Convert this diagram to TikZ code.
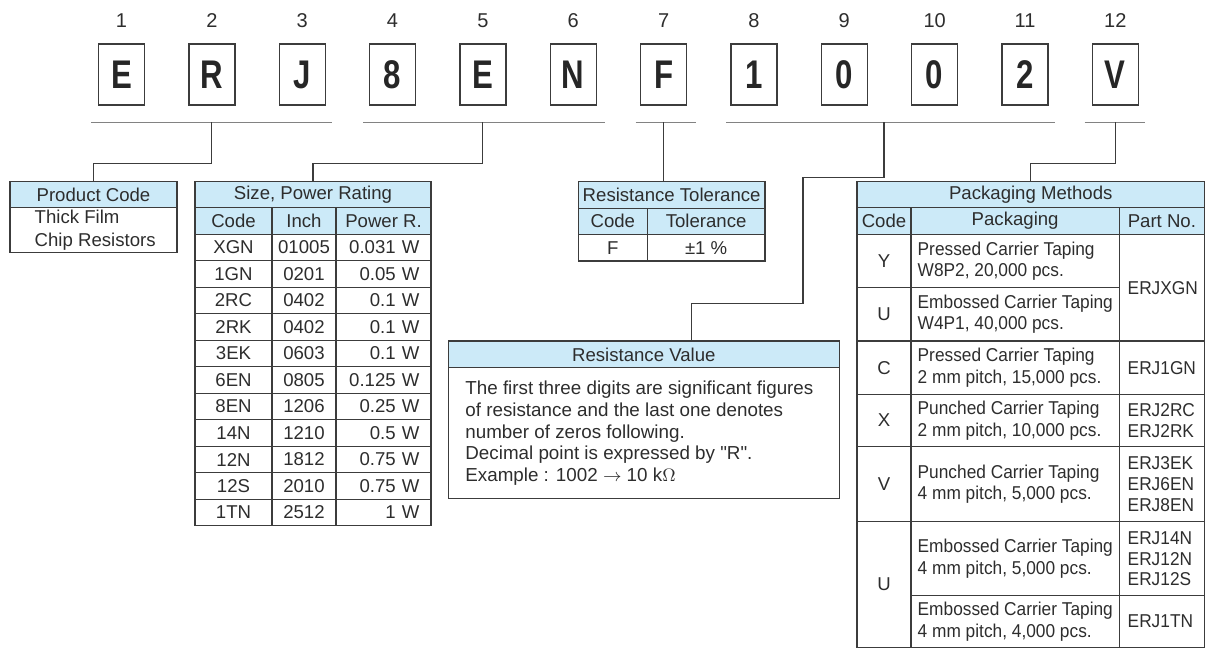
\documentclass[tikz,border=0pt]{standalone}
\usepackage{fontspec}
\setmainfont{Liberation Sans}
\newfontfamily\packfont{Liberation Sans}[FakeStretch=0.93]
\newfontfamily\codefont{Liberation Sans}[FakeStretch=0.78]
\usepackage{tikz}
\usepackage{color}

\definecolor{headblue}{RGB}{204,234,248}
\definecolor{rulegray}{RGB}{60,60,60}
\definecolor{textgray}{RGB}{45,45,45}
\definecolor{bracketgray}{RGB}{130,130,130}

\tikzset{
  cell/.style={draw=rulegray, line width=0.65pt, inner sep=0pt, text=textgray},
  headcell/.style={cell, fill=headblue},
  txt/.style={inner sep=0pt, text=textgray},
  charbox/.style={draw=rulegray, line width=0.65pt, inner sep=0pt, minimum width=23pt, minimum height=30.5pt,
    text=black!85, font=\codefont\bfseries\fontsize{20}{20}\selectfont},
  bracket/.style={bracketgray, line width=0.75pt},
  link/.style={rulegray, line width=0.55pt}
}

\begin{document}
\begin{tikzpicture}[x=0.5pt, y=-0.5pt, font=\fontsize{9.3}{10.8}\selectfont]
\useasboundingbox (0,0) rectangle (1205,649);

\foreach \ch [count=\i] in {E,R,J,8,E,N,F,1,0,0,2,V} {
  \node[txt, font=\fontsize{10}{10}\selectfont] (num\i) at ({121.5+(\i-1)*90.35},21) {\i};
  \node[charbox] (b\i) at ({121.5+(\i-1)*90.35},74.5) {\ch};
}

% brackets under the code
\coordinate (br1w) at (91,122.3);     \coordinate (br1e) at (332.4,122.3);
\coordinate (br2w) at (363,122.3);    \coordinate (br2e) at (604.6,122.3);
\coordinate (br3w) at (635.5,122.3);  \coordinate (br3e) at (695.5,122.3);
\coordinate (br4w) at (726,122.3);    \coordinate (br4e) at (1054.7,122.3);
\coordinate (br5w) at (1084.5,122.3); \coordinate (br5e) at (1144.5,122.3);
\coordinate (br4m) at (884,122.3);
\foreach \k in {1,...,5} \draw[bracket] (br\k w) -- (br\k e);

% product code
\node[headcell, minimum width=83.5pt, minimum height=13pt] (prod) at (93.5,194.7) {Product Code};
\node[cell, minimum width=83.5pt, minimum height=22.3pt] (prodbody) at (93.5,230) {};
\node[txt, anchor=west, align=left, font=\fontsize{9.3}{11.35}\selectfont] (prodtxt) at (34.3,230.5) {Thick Film\\Chip Resistors};

% size, power rating
\node[headcell, minimum width=118pt, minimum height=13pt] (size) at (313,194.7) {Size, Power Rating};
\node[headcell, minimum width=38.5pt, minimum height=13.3pt] (sizecode) at (233.5,221) {Code};
\node[headcell, minimum width=32pt, minimum height=13.3pt] (sizeinch) at (304,221) {Inch};
\node[headcell, minimum width=47.5pt, minimum height=13.3pt] (sizepow) at (383.5,221) {Power R.};
\foreach \cd/\inch/\pw [count=\r] in {XGN/01005/0.031 W, 1GN/0201/0.05 W, 2RC/0402/0.1 W, 2RK/0402/0.1 W,
    3EK/0603/0.1 W, 6EN/0805/0.125 W, 8EN/1206/0.25 W, 14N/1210/0.5 W, 12N/1812/0.75 W, 12S/2010/0.75 W, 1TN/2512/1 W} {
  \node[cell, minimum width=38.5pt, minimum height=13.25pt] (sc\r) at (233.5,{221.05+26.5*\r}) {\cd};
  \node[cell, minimum width=32pt, minimum height=13.25pt] (si\r) at (304,{221.05+26.5*\r}) {\inch};
  \node[cell, minimum width=47.5pt, minimum height=13.25pt, text width=36pt, align=right] (sp\r) at (383.5,{221.05+26.5*\r}) {\pw};
}

% resistance tolerance
\node[headcell, minimum width=93.35pt, minimum height=13.3pt] (tol) at (671.65,195) {Resistance Tolerance};
\node[headcell, minimum width=34.5pt, minimum height=13pt] (tolcode) at (612.8,221.3) {Code};
\node[headcell, minimum width=58.85pt, minimum height=13pt] (toltol) at (706.15,221.3) {Tolerance};
\node[cell, minimum width=34.5pt, minimum height=13.35pt] (tolF) at (612.8,247.65) {F};
\node[cell, minimum width=58.85pt, minimum height=13.35pt] (tolval) at (706.15,247.65) {±1 \%};

% resistance value
\node[headcell, minimum width=195.5pt, minimum height=13.35pt] (val) at (643.8,354.35) {Resistance Value};
\node[cell, minimum width=195.5pt, minimum height=65.3pt] (valbody) at (643.8,433) {};
\node[txt, anchor=west, align=left, font=\fontsize{9.4}{10.83}\selectfont] (valtxt) at (465,433.3)
  {The first three digits are significant figures\\of resistance and the last one denotes\\number of zeros following.\\Decimal point is expressed by \textquotedbl R\textquotedbl.\\Example : 1002 $\rightarrow$ 10 k$\Omega$};

% packaging methods
\node[headcell, minimum width=173.75pt, minimum height=13pt] (pack) at (1030.75,194.7) {Packaging Methods};
\node[headcell, minimum width=27pt, minimum height=13.3pt] (packcode) at (884,221) {Code};
\node[headcell, minimum width=104.15pt, minimum height=13.3pt] (packway) at (1015.15,221) {Packaging};
\node[headcell, minimum width=42.6pt, minimum height=13.3pt] (packpart) at (1161.9,221) {Part No.};
\foreach \yc/\rowh/\cd [count=\r] in {261/26.7/Y, 314.35/26.65/U, 367.65/26.65/C, 420.5/26.2/X, 484.2/37.5/V, 584.5/62.8/U}
  \node[cell, minimum width=27pt, minimum height=\rowh pt] (pc\r) at (884,\yc) {\cd};
\foreach \yc/\rowh/\txt [count=\r] in {261/26.7/{Pressed Carrier Taping\\W8P2, 20,000 pcs.},
    314.35/26.65/{Embossed Carrier Taping\\W4P1, 40,000 pcs.}, 367.65/26.65/{Pressed Carrier Taping\\2 mm pitch, 15,000 pcs.},
    420.5/26.2/{Punched Carrier Taping\\2 mm pitch, 10,000 pcs.}, 484.2/37.5/{Punched Carrier Taping\\4 mm pitch, 5,000 pcs.},
    558.7/37/{Embossed Carrier Taping\\4 mm pitch, 5,000 pcs.}, 621.5/25.8/{Embossed Carrier Taping\\4 mm pitch, 4,000 pcs.}} {
  \node[cell, minimum width=104.15pt, minimum height=\rowh pt] (pw\r) at (1015.15,\yc) {};
  \node[txt, anchor=west, align=left, font=\packfont\fontsize{9.3}{10.8}\selectfont] (pwt\r) at (917.3,\yc) {\txt};
}
\foreach \yc/\rowh/\txt [count=\r] in {287.65/53.35/ERJXGN, 367.65/26.65/ERJ1GN, 420.5/26.2/{ERJ2RC\\ERJ2RK},
    484.2/37.5/{ERJ3EK\\ERJ6EN\\ERJ8EN}, 558.7/37/{ERJ14N\\ERJ12N\\ERJ12S}, 621.5/25.8/ERJ1TN} {
  \node[cell, minimum width=42.6pt, minimum height=\rowh pt] (pp\r) at (1161.9,\yc) {};
  \node[txt, anchor=west, align=left, font=\packfont\fontsize{9.3}{10.4}\selectfont] (ppt\r) at (1127.3,\yc) {\txt};
}

% links from the brackets to the tables
\draw[link] (b2 |- br1w) -- (b2 |- 0,163.5) -| (prod.north);
\draw[link] (b5 |- br2w) -- (b5 |- 0,163.5) -| (size.north);
\draw[link] (b7 |- br3w) -- (b7 |- tol.north);
\draw[link] (br4m) |- (803,177.7) |- (691.7,303.3) -- (691.7,0 |- val.north);
\draw[link] (b12 |- br5w) -- (b12 |- 0,163.5) -| (pack.north);
\end{tikzpicture}
\end{document}
